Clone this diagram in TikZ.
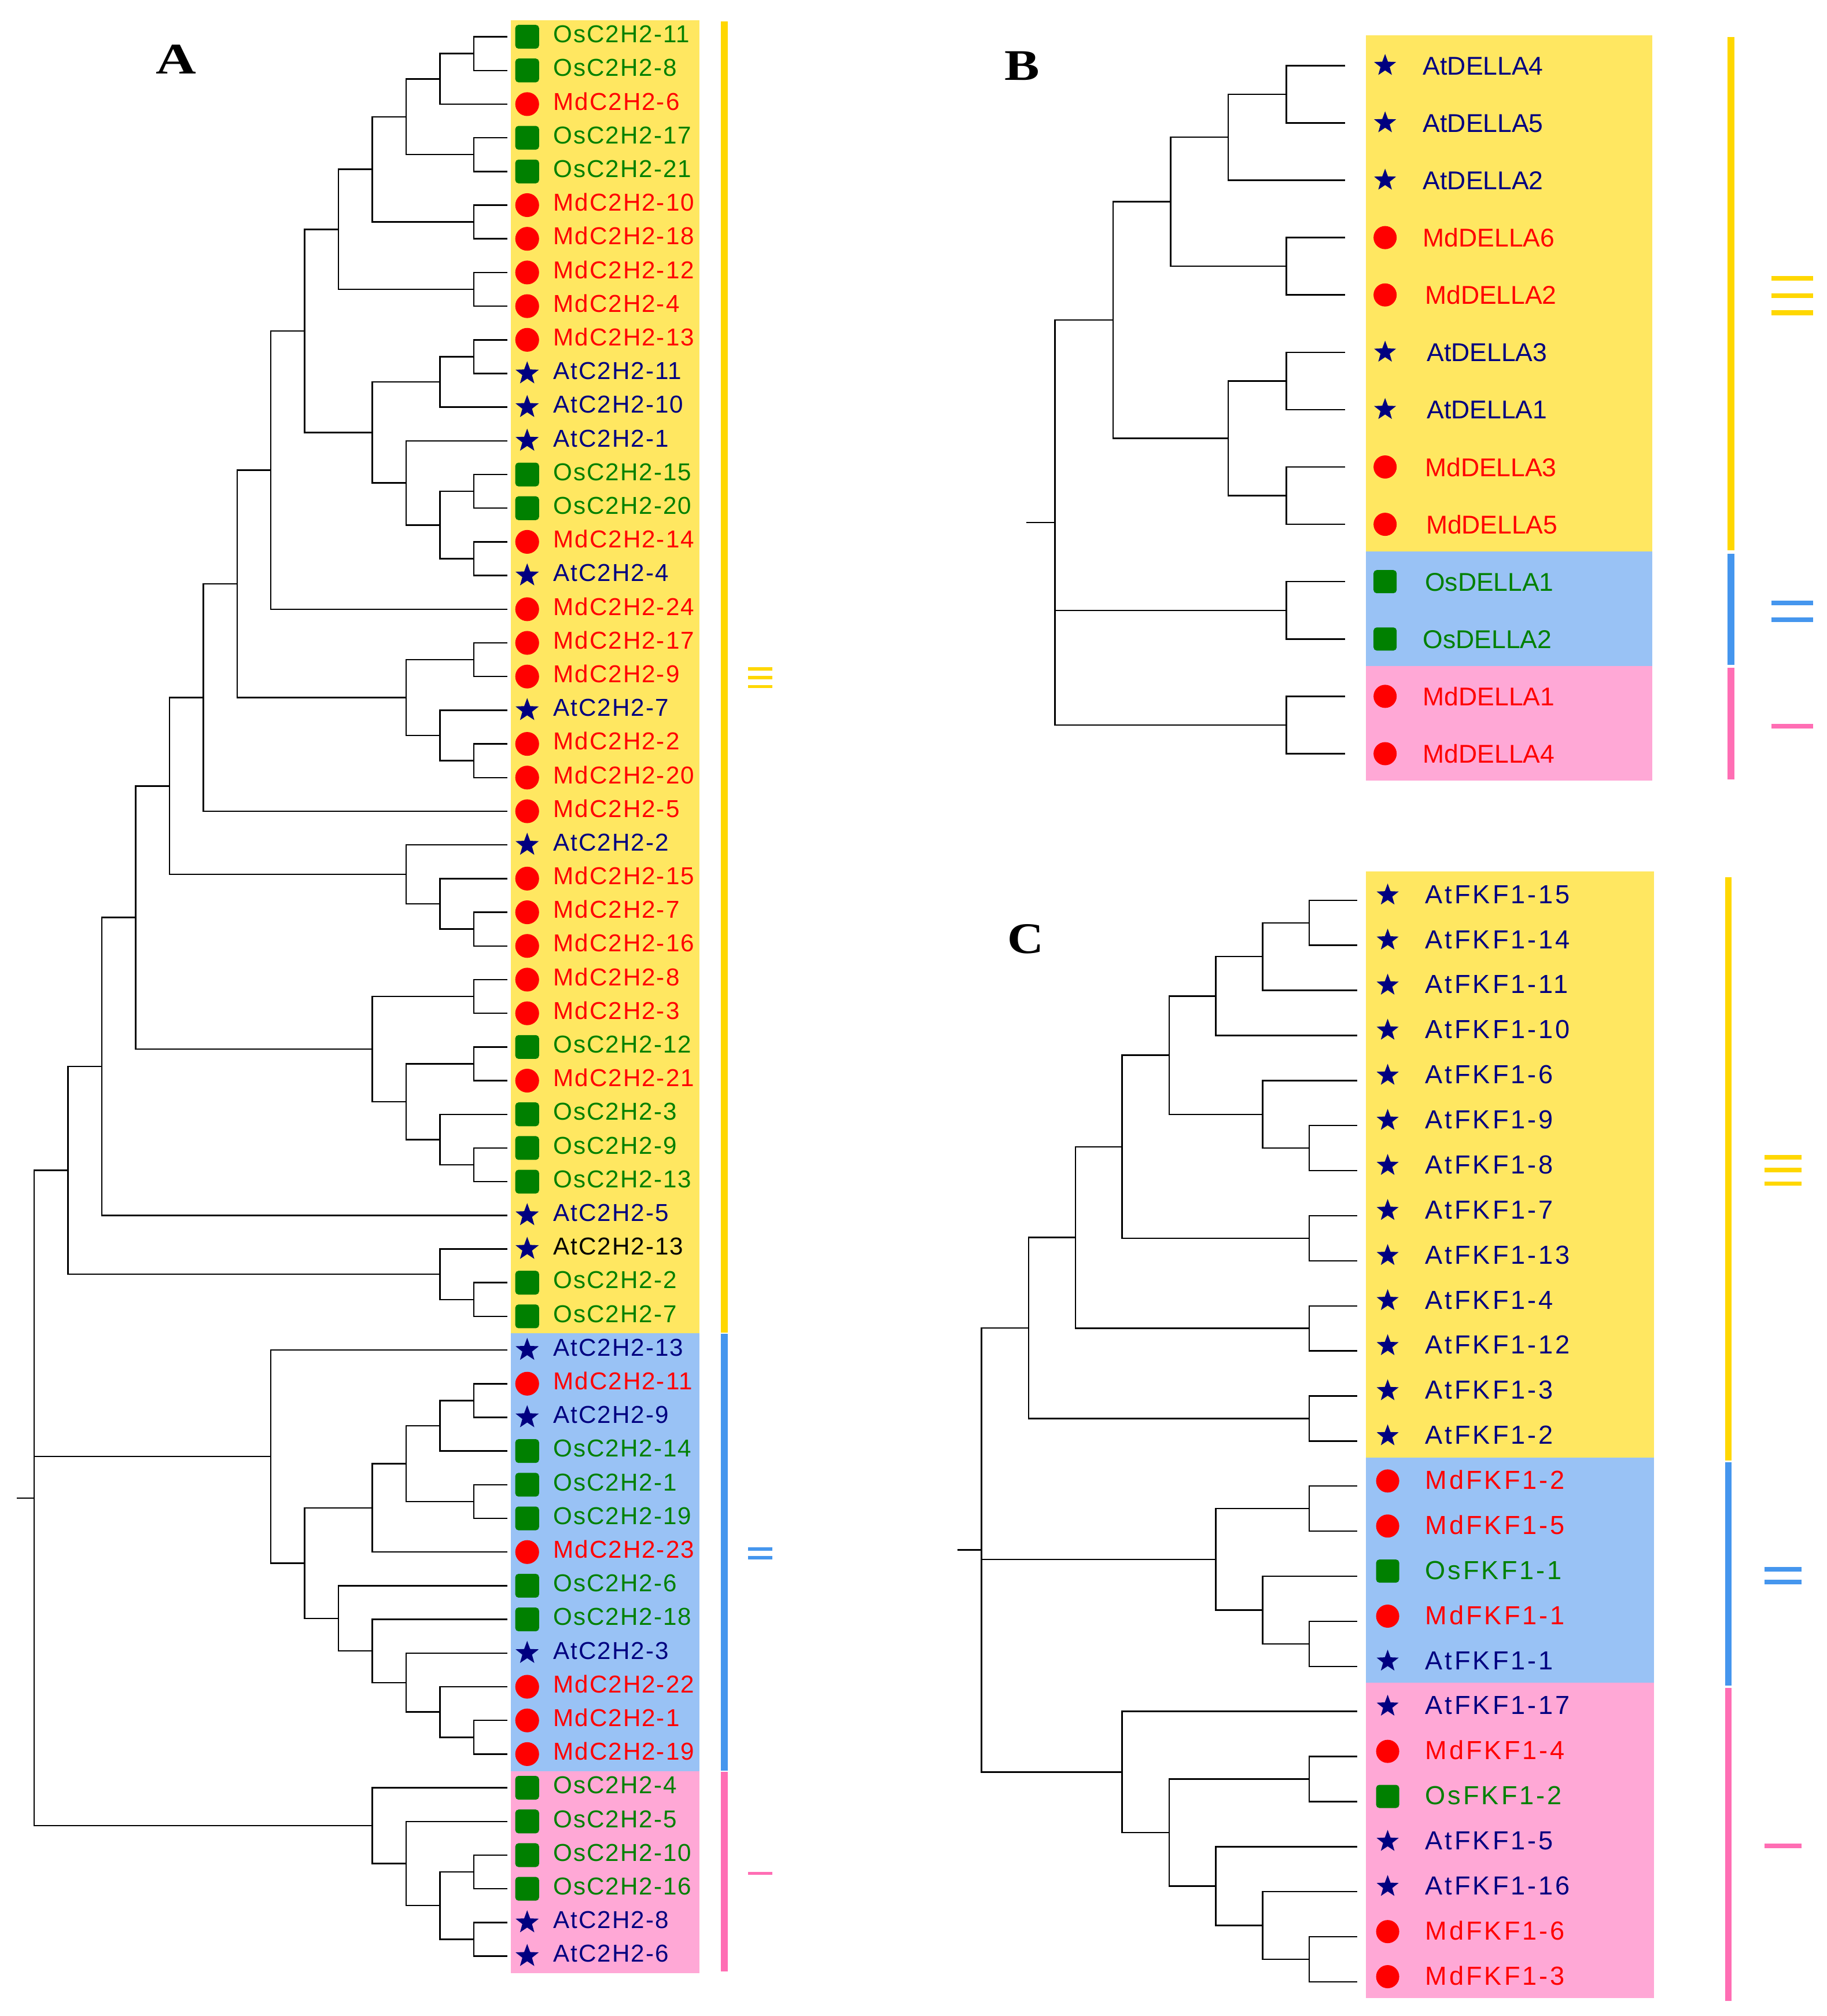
\documentclass[tikz,border=0pt]{standalone}
\usepackage{fontspec}
\setmainfont{Liberation Sans}
\newfontfamily\labA[LetterSpace=4.7]{Liberation Sans}
\newfontfamily\labB{Liberation Sans}
\newfontfamily\labC[LetterSpace=9]{Liberation Sans}
\newfontfamily\panelf{Liberation Serif}
\usetikzlibrary{calc,shapes.geometric}
\definecolor{cOs}{RGB}{0,128,0}
\definecolor{cMd}{RGB}{255,0,0}
\definecolor{cAt}{RGB}{0,0,128}
\definecolor{bgY}{RGB}{255,231,97}
\definecolor{bgB}{RGB}{153,194,245}
\definecolor{bgP}{RGB}{255,168,214}
\definecolor{brY}{RGB}{255,215,0}
\definecolor{brB}{RGB}{69,150,238}
\definecolor{brP}{RGB}{255,110,180}
\tikzset{
  tree/.style={line width=1.1pt, line join=miter},
  mkOs/.style={rectangle, fill=cOs, minimum size=18.5pt, rounded corners=2.5pt, inner sep=0pt},
  mkMd/.style={circle, fill=cMd, minimum size=18.5pt, inner sep=0pt},
  mkAt/.style={star, star points=5, star point ratio=2.4, fill=cAt, minimum size=19pt, inner sep=0pt},
  lblA/.style={anchor=base west, inner sep=0pt, font=\labA\fontsize{19}{19}\selectfont},
  lblB/.style={anchor=base west, inner sep=0pt, font=\labB\fontsize{20}{20}\selectfont},
  lblC/.style={anchor=base west, inner sep=0pt, font=\labC\fontsize{20.3}{20.3}\selectfont},
  panel/.style={inner sep=0pt, font=\panelf\bfseries\fontsize{34}{34}\selectfont},
  mark/.style={line width=#1},
}
\newcommand\clade[4]{%
  \path let \p1=(#3), \p2=(#4) in coordinate (#1) at (#2pt, {0.5*(\y1+\y2)});
  \draw[tree] (#3) -- (#3 -| #1) -- (#4 -| #1) -- (#4);
}
\newcommand\cladeT[5]{%
  \path let \p1=(#3), \p2=(#5) in coordinate (#1) at (#2pt, {0.5*(\y1+\y2)});
  \draw[tree] (#3) -- (#3 -| #1) -- (#5 -| #1) -- (#5);
  \draw[tree] (#4 -| #1) -- (#4);
}
\begin{document}
\begin{tikzpicture}[x=1pt,y=-1pt]
\useasboundingbox (0,0) rectangle (1421,1568);
% ---------------- backgrounds ----------------
\fill[bgY] (397.3,15.8) rectangle (544.2,1036.9);
\fill[bgB] (397.3,1036.9) rectangle (544.2,1377.8);
\fill[bgP] (397.3,1377.8) rectangle (544.2,1534.8);
\fill[bgY] (1062.5,27.3) rectangle (1285.4,428.9);
\fill[bgB] (1062.5,428.9) rectangle (1285.4,518.1);
\fill[bgP] (1062.5,518.1) rectangle (1285.4,606.9);
\fill[bgY] (1062.5,677.8) rectangle (1286.5,1133.8);
\fill[bgB] (1062.5,1133.8) rectangle (1286.5,1308.9);
\fill[bgP] (1062.5,1308.9) rectangle (1286.5,1554.1);
% ---------------- group bars ----------------
\fill[brY] (560.8,16.5) rectangle (566.3,1036.6);
\fill[brB] (560.8,1037.4) rectangle (566.3,1377.2);
\fill[brP] (560.8,1378.2) rectangle (566.3,1533.5);
\fill[brY] (1344.0,28.9) rectangle (1349.3,428.0);
\fill[brB] (1344.0,430.5) rectangle (1349.3,516.9);
\fill[brP] (1344.0,519.3) rectangle (1349.3,606.1);
\fill[brY] (1342.2,682.5) rectangle (1347.2,1136.1);
\fill[brB] (1342.2,1137.2) rectangle (1347.2,1311.2);
\fill[brP] (1342.2,1313.0) rectangle (1347.2,1556.4);
% group marks
\foreach \yy in {520.2,527.1,534.0} \draw[brY, mark=2.6pt] (582,\yy) -- (601,\yy);
\foreach \yy in {1204.8,1211.7} \draw[brB, mark=2.6pt] (582,\yy) -- (601,\yy);
\draw[brP, mark=2.6pt] (582,1457) -- (601,1457);
\foreach \yy in {216.6,229.9,243.2} \draw[brY, mark=3.8pt] (1377.9,\yy) -- (1410.3,\yy);
\foreach \yy in {469.0,481.9} \draw[brB, mark=3.8pt] (1377.9,\yy) -- (1410.3,\yy);
\draw[brP, mark=3.8pt] (1377.9,564.7) -- (1410.3,564.7);
\foreach \yy in {900.2,910.1,920.6} \draw[brY, mark=3.5pt] (1372.7,\yy) -- (1401.6,\yy);
\foreach \yy in {1220.7,1230.6} \draw[brB, mark=3.5pt] (1372.7,\yy) -- (1401.6,\yy);
\draw[brP, mark=3.5pt] (1372.7,1435.5) -- (1401.6,1435.5);
% ---------------- panel letters ----------------
\node[panel] (LA) at (137,46) {\scalebox{1.28}[1]{A}};
\node[panel] (LB) at (795,51.2) {\scalebox{1.2}[1]{B}};
\node[panel] (LC) at (797.8,730.4) {\scalebox{1.15}[1]{C}};
% ---------------- panel A leaves ----------------
\foreach \i/\spc/\n in {1/Os/11,2/Os/8,3/Md/6,4/Os/17,5/Os/21,6/Md/10,7/Md/18,8/Md/12,9/Md/4,10/Md/13,
  11/At/11,12/At/10,13/At/1,14/Os/15,15/Os/20,16/Md/14,17/At/4,18/Md/24,19/Md/17,20/Md/9,
  21/At/7,22/Md/2,23/Md/20,24/Md/5,25/At/2,26/Md/15,27/Md/7,28/Md/16,29/Md/8,30/Md/3,
  31/Os/12,32/Md/21,33/Os/3,34/Os/9,35/Os/13,36/At/5,38/Os/2,39/Os/7,40/At/13,
  41/Md/11,42/At/9,43/Os/14,44/Os/1,45/Os/19,46/Md/23,47/Os/6,48/Os/18,49/At/3,50/Md/22,
  51/Md/1,52/Md/19,53/Os/4,54/Os/5,55/Os/10,56/Os/16,57/At/8,58/At/6}{
  \pgfmathsetmacro\yy{28.6+26.19*(\i-1)}
  \coordinate (a\i) at (394.8,\yy);
  \node[mk\spc] (ma\i) at (410.1,\yy) {};
  \node[lblA, text=c\spc] (ta\i) at (430.3,\yy+4.6) {\spc C2H2-\n};
}
\pgfmathsetmacro\yy{28.6+26.19*36}
\coordinate (a37) at (394.8,\yy);
\node[mkAt] (ma37) at (410.1,\yy) {};
\node[lblA, text=black] (ta37) at (430.3,\yy+4.6) {AtC2H2-13};
% ---------------- panel A tree ----------------
\clade{A1}{368.5}{a1}{a2}
\clade{A2}{342.2}{A1}{a3}
\clade{A3}{368.5}{a4}{a5}
\clade{A4}{315.9}{A2}{A3}
\clade{A5}{368.5}{a6}{a7}
\clade{A6}{289.6}{A4}{A5}
\clade{A7}{368.5}{a8}{a9}
\clade{A8}{263.3}{A6}{A7}
\clade{A9}{368.5}{a10}{a11}
\clade{A10}{342.2}{A9}{a12}
\clade{A11}{368.5}{a14}{a15}
\clade{A12}{368.5}{a16}{a17}
\clade{A13}{342.2}{A11}{A12}
\clade{A14}{315.9}{a13}{A13}
\clade{A15}{289.6}{A10}{A14}
\clade{A16}{237.0}{A8}{A15}
\clade{A17}{210.7}{A16}{a18}
\clade{A18}{368.5}{a19}{a20}
\clade{A19}{368.5}{a22}{a23}
\clade{A20}{342.2}{a21}{A19}
\clade{A21}{315.9}{A18}{A20}
\clade{A22}{184.4}{A17}{A21}
\clade{A23}{158.1}{A22}{a24}
\clade{A24}{368.5}{a27}{a28}
\clade{A25}{342.2}{a26}{A24}
\clade{A26}{315.9}{a25}{A25}
\clade{A27}{131.8}{A23}{A26}
\clade{A28}{368.5}{a29}{a30}
\clade{A29}{368.5}{a31}{a32}
\clade{A30}{368.5}{a34}{a35}
\clade{A31}{342.2}{a33}{A30}
\clade{A32}{315.9}{A29}{A31}
\clade{A33}{289.6}{A28}{A32}
\clade{A34}{105.5}{A27}{A33}
\clade{A35}{79.2}{A34}{a36}
\clade{A36}{368.5}{a38}{a39}
\clade{A37}{342.2}{a37}{A36}
\clade{A38}{52.9}{A35}{A37}
\clade{A39}{368.5}{a41}{a42}
\clade{A40}{342.2}{A39}{a43}
\clade{A41}{368.5}{a44}{a45}
\clade{A42}{315.9}{A40}{A41}
\clade{A43}{289.6}{A42}{a46}
\clade{A44}{368.5}{a51}{a52}
\clade{A45}{342.2}{a50}{A44}
\clade{A46}{315.9}{a49}{A45}
\clade{A47}{289.6}{a48}{A46}
\clade{A48}{263.3}{a47}{A47}
\clade{A49}{237.0}{A43}{A48}
\clade{A50}{210.7}{a40}{A49}
\clade{A51}{368.5}{a55}{a56}
\clade{A52}{368.5}{a57}{a58}
\clade{A53}{342.2}{A51}{A52}
\clade{A54}{315.9}{a54}{A53}
\clade{A55}{289.6}{a53}{A54}
\cladeT{A56}{26.6}{A38}{A50}{A55}
\path (A56) ++(-13.4,0) coordinate (A0);
\draw[tree] (A0) -- (A56);
% ---------------- panel B leaves ----------------
\foreach \i/\spc/\n/\tx in {1/At/4/1106.9,2/At/5/1106.9,3/At/2/1106.9,4/Md/6/1106.9,5/Md/2/1108.4,
  6/At/3/1109.9,7/At/1/1109.9,8/Md/3/1108.4,9/Md/5/1109.2,10/Os/1/1108.4,11/Os/2/1106.9,
  12/Md/1/1106.9,13/Md/4/1106.9}{
  \pgfmathsetmacro\yy{51.0+44.6*(\i-1)}
  \coordinate (b\i) at (1046.5,\yy);
  \node[mk\spc, minimum size=18pt] (mb\i) at (1077.5,\yy) {};
  \node[lblB, text=c\spc] (tb\i) at (\tx,\yy+7.2) {\spc DELLA\n};
}
\clade{B1}{1000.6}{b1}{b2}
\clade{B2}{955.4}{B1}{b3}
\clade{B3}{1000.6}{b4}{b5}
\clade{B4}{910.6}{B2}{B3}
\clade{B5}{1000.6}{b6}{b7}
\clade{B6}{1000.6}{b8}{b9}
\clade{B7}{955.4}{B5}{B6}
\clade{B8}{865.8}{B4}{B7}
\clade{B9}{1000.6}{b10}{b11}
\clade{B10}{1000.6}{b12}{b13}
\cladeT{B11}{820.7}{B8}{B9}{B10}
\path (B11) ++(-22.4,0) coordinate (B0);
\draw[tree] (B0) -- (B11);
% ---------------- panel C leaves ----------------
\foreach \i/\spc/\n in {1/At/15,2/At/14,3/At/11,4/At/10,5/At/6,6/At/9,7/At/8,8/At/7,9/At/13,
  10/At/4,11/At/12,12/At/3,13/At/2,14/Md/2,15/Md/5,16/Os/1,17/Md/1,18/At/1,19/At/17,
  20/Md/4,21/Os/2,22/At/5,23/At/16,24/Md/6,25/Md/3}{
  \pgfmathsetmacro\yy{700.2+35.05*(\i-1)}
  \coordinate (c\i) at (1055.8,\yy);
  \node[mk\spc, minimum size=18pt] (mc\i) at (1079.5,\yy-4) {};
  \node[lblC, text=c\spc] (tc\i) at (1108.5,\yy+2.4) {\spc FKF1-\n};
}
\clade{C1}{1018.5}{c1}{c2}
\clade{C2}{982.3}{C1}{c3}
\clade{C3}{945.7}{C2}{c4}
\clade{C4}{1018.5}{c6}{c7}
\clade{C5}{982.3}{c5}{C4}
\clade{C6}{909.5}{C3}{C5}
\clade{C7}{1018.5}{c8}{c9}
\clade{C8}{872.9}{C6}{C7}
\clade{C9}{1018.5}{c10}{c11}
\clade{C10}{836.7}{C8}{C9}
\clade{C11}{1018.5}{c12}{c13}
\clade{C12}{800.1}{C10}{C11}
\clade{C13}{1018.5}{c14}{c15}
\clade{C14}{1018.5}{c17}{c18}
\clade{C15}{982.3}{c16}{C14}
\clade{C16}{945.7}{C13}{C15}
\clade{C17}{1018.5}{c20}{c21}
\clade{C18}{1018.5}{c24}{c25}
\clade{C19}{982.3}{c23}{C18}
\clade{C20}{945.7}{c22}{C19}
\clade{C21}{909.5}{C17}{C20}
\clade{C22}{872.9}{c19}{C21}
\cladeT{C23}{763.5}{C12}{C16}{C22}
\path (C23) ++(-18.6,0) coordinate (C0);
\draw[tree] (C0) -- (C23);
\end{tikzpicture}
\end{document}
